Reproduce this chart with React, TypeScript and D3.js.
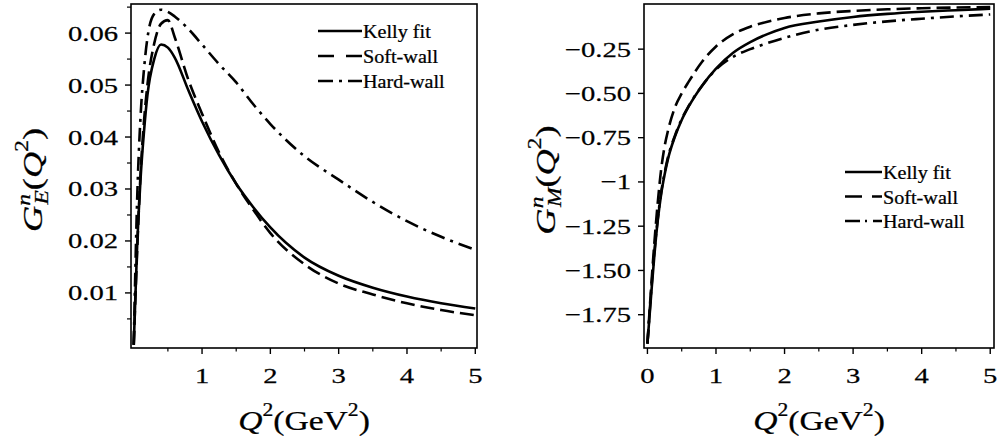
import React from 'react';
import { scaleLinear, line, curveMonotoneX } from 'd3';

// Q^2 sample points (GeV^2)
const q2E = [0, 0.05, 0.1, 0.15, 0.2, 0.3, 0.4, 0.5, 0.6, 0.8, 1.0, 1.25, 1.5, 1.75, 2.0, 2.5, 3.0, 3.5, 4.0, 4.5, 5.0];
const kellyE = [0, 0.019, 0.032, 0.041, 0.048, 0.055, 0.0578, 0.0572, 0.0553, 0.049, 0.043, 0.0365, 0.031, 0.0265, 0.0226, 0.0168, 0.0133, 0.011, 0.0093, 0.008, 0.007];
const softE = [0, 0.018, 0.033, 0.043, 0.05, 0.058, 0.0618, 0.0625, 0.0592, 0.051, 0.0445, 0.037, 0.031, 0.026, 0.0215, 0.0155, 0.0118, 0.0097, 0.008, 0.0067, 0.0057];
const hardE = [0, 0.028, 0.044, 0.053, 0.059, 0.0637, 0.0645, 0.0641, 0.0632, 0.0608, 0.0578, 0.054, 0.0505, 0.0463, 0.0425, 0.0363, 0.0318, 0.0275, 0.0238, 0.0208, 0.0183];

const q2M = [0, 0.05, 0.1, 0.15, 0.2, 0.25, 0.3, 0.4, 0.5, 0.6, 0.8, 1.0, 1.25, 1.5, 1.75, 2.0, 2.5, 3.0, 3.5, 4.0, 4.5, 5.0];
const kellyM = [-1.913, -1.66, -1.42, -1.22, -1.07, -0.96, -0.87, -0.745, -0.65, -0.575, -0.455, -0.36, -0.27, -0.21, -0.165, -0.13, -0.094, -0.068, -0.051, -0.039, -0.03, -0.022];
const softM = [-1.913, -1.62, -1.35, -1.12, -0.93, -0.8, -0.71, -0.58, -0.5, -0.435, -0.32, -0.235, -0.165, -0.123, -0.095, -0.074, -0.048, -0.034, -0.025, -0.019, -0.015, -0.012];
const hardM = [-1.913, -1.64, -1.4, -1.21, -1.06, -0.95, -0.86, -0.74, -0.645, -0.572, -0.455, -0.365, -0.293, -0.25, -0.216, -0.186, -0.14, -0.113, -0.093, -0.078, -0.065, -0.054];

const seriesNames = ['Kelly fit', 'Soft-wall', 'Hard-wall'];

const xTicksE = [1, 2, 3, 4, 5];
const xTicksM = [0, 1, 2, 3, 4, 5];
const xMinor = [0.5, 1.5, 2.5, 3.5, 4.5];
const yTicksE = [0.01, 0.02, 0.03, 0.04, 0.05, 0.06];
const yLabelsE = ['0.01', '0.02', '0.03', '0.04', '0.05', '0.06'];
const yMinorE = [0.005, 0.015, 0.025, 0.035, 0.045, 0.055, 0.065];
const yTicksM = [-1.75, -1.5, -1.25, -1, -0.75, -0.5, -0.25];
const yLabelsM = ['\u22121.75', '\u22121.50', '\u22121.25', '\u22121', '\u22120.75', '\u22120.50', '\u22120.25'];

const FONT = "Liberation Serif, serif";

function SText({ x, y, sx = 1, rotate = 0, anchor = 'start', size, children }: any) {
  return (
    <g transform={`translate(${x},${y}) rotate(${rotate}) scale(${sx},1)`}>
      <text textAnchor={anchor} fontSize={size} fontFamily={FONT} fill="#000" stroke="#000" strokeWidth={0.25}>
        {children}
      </text>
    </g>
  );
}

const styles = [
  { dash: null },
  { dash: '14,6' },
  { dash: '14,6,3,6' },
];

function Panel({ id, left, right, xDomain, yDomain, q2, series, xTicks, yTicks, yLabels, yMinor, sub, legend }: any) {
  const top = 4, bottom = 348;
  const x = scaleLinear().domain(xDomain).range([left, right]);
  const y = scaleLinear().domain(yDomain).range([bottom, top]);
  const path = line<number>().x((d, i) => x(q2[i])).y(d => y(d)).curve(curveMonotoneX);
  const cx = (left + right) / 2;

  return (
    <g>
      <defs>
        <clipPath id={id}>
          <rect x={left} y={top} width={right - left} height={bottom - top} />
        </clipPath>
      </defs>
      <g clipPath={`url(#${id})`}>
        {series.map((s: number[], i: number) => (
          <path key={i} d={path(s) || ''} fill="none" stroke="#000" strokeWidth={2.6}
            strokeDasharray={styles[i].dash || undefined} />
        ))}
      </g>
      <rect x={left} y={top} width={right - left} height={bottom - top} fill="none" stroke="#000" strokeWidth={1.6} />
      {xTicks.map((t: number) => (
        <g key={t}>
          <line x1={x(t)} x2={x(t)} y1={bottom} y2={bottom + 6} stroke="#000" strokeWidth={1.4} />
          <SText x={x(t)} y={383} sx={1.3} anchor="middle" size={22}>{String(t)}</SText>
        </g>
      ))}
      {xMinor.map((t: number) => (
        <line key={t} x1={x(t)} x2={x(t)} y1={bottom} y2={bottom + 3.5} stroke="#000" strokeWidth={1.2} />
      ))}
      {yTicks.map((t: number, i: number) => (
        <g key={t}>
          <line x1={left - 6} x2={left} y1={y(t)} y2={y(t)} stroke="#000" strokeWidth={1.4} />
          <SText x={left - 13} y={y(t) + 7.5} sx={1.3} anchor="end" size={22}>{yLabels[i]}</SText>
        </g>
      ))}
      {yMinor.map((t: number) => (
        <line key={t} x1={left - 4} x2={left} y1={y(t)} y2={y(t)} stroke="#000" strokeWidth={1.2} />
      ))}
      {/* x-axis title */}
      <SText x={cx} y={430} sx={1.2} anchor="middle" size={28}>
        <tspan fontStyle="italic">Q</tspan>
        <tspan fontSize={18} dy={-14}>2</tspan>
        <tspan dy={14}>(GeV</tspan>
        <tspan fontSize={18} dy={-14}>2</tspan>
        <tspan dy={14}>)</tspan>
      </SText>
      {/* y-axis title */}
      <SText x={left - 89} y={180} sx={1.3} rotate={-90} anchor="middle" size={28}>
        <tspan fontStyle="italic">G</tspan>
        <tspan fontStyle="italic" fontSize={18} dy={-12}>n</tspan>
        <tspan fontStyle="italic" fontSize={18} dx={-8} dy={18}>{sub}</tspan>
        <tspan dy={-6}>(</tspan>
        <tspan fontStyle="italic">Q</tspan>
        <tspan fontSize={18} dy={-14}>2</tspan>
        <tspan dy={14}>)</tspan>
      </SText>
      {/* legend */}
      {seriesNames.map((name, i) => {
        const by = legend.y + i * legend.dy;
        return (
          <g key={name}>
            <line x1={legend.x1} x2={legend.x2} y1={by - 7} y2={by - 7} stroke="#000" strokeWidth={2.6}
              strokeDasharray={legend.dash[i] || undefined} />
            <SText x={legend.x2 + 1} y={by} sx={1.12} size={18}>{name}</SText>
          </g>
        );
      })}
    </g>
  );
}

export default function App() {
  return (
    <svg width={998} height={441} style={{ display: 'block', position: 'absolute', left: 0, top: 0, background: '#fff' }}>
      <rect width={998} height={441} fill="#fff" />
      <Panel id="clipE" left={131} right={477} xDomain={[-0.04, 5.025]} yDomain={[-0.0006, 0.0656]}
        q2={q2E} series={[kellyE, softE, hardE]} xTicks={xTicksE} yTicks={yTicksE} yLabels={yLabelsE}
        yMinor={yMinorE} sub="E"
        legend={{ x1: 318, x2: 362, y: 38, dy: 25, dash: [null, '16,12,16', '15,6,3,6,14'] }} />
      <Panel id="clipM" left={644} right={994} xDomain={[-0.05, 5.055]} yDomain={[-1.938, 0.005]}
        q2={q2M} series={[kellyM, softM, hardM]} xTicks={xTicksM} yTicks={yTicksM} yLabels={yLabelsM}
        yMinor={[]} sub="M"
        legend={{ x1: 845, x2: 882, y: 179, dy: 24.5, dash: [null, '17,10,12', '15,5,2,6,9'] }} />
    </svg>
  );
}
